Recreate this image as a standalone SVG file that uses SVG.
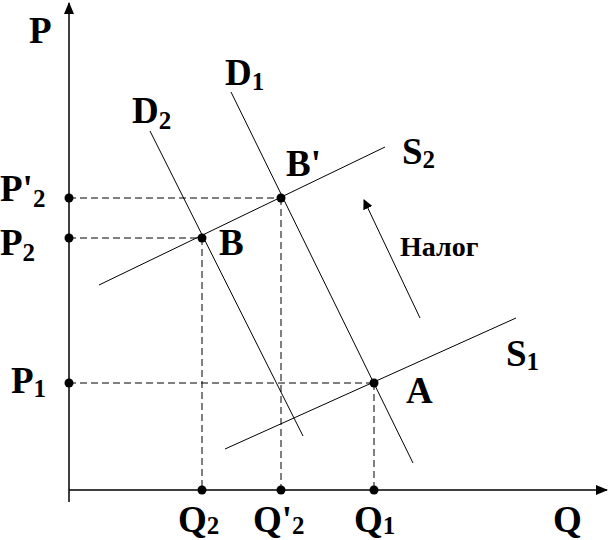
<svg xmlns="http://www.w3.org/2000/svg" width="609" height="540" viewBox="0 0 609 540">
<style>
.t{font-family:"Liberation Serif","Times New Roman",serif;font-weight:bold;fill:#000}
.m{font-size:37px}
.s{font-size:25px}
.n{font-size:28px}
.ln{stroke:#000;stroke-width:1;fill:none}
.ax{stroke:#000;stroke-width:1.5;fill:none}
.ds{stroke:#000;stroke-width:1;stroke-dasharray:7,4;fill:none}
.dot{fill:#000}
</style>
<defs>
<marker id="ah" markerWidth="10" markerHeight="10" refX="9" refY="5" orient="auto" markerUnits="userSpaceOnUse">
<path d="M0,0 L10,5 L0,10 z" fill="#000"/>
</marker>
<marker id="ah2" markerWidth="12" markerHeight="12" refX="11" refY="6" orient="auto" markerUnits="userSpaceOnUse">
<path d="M0,1 L12,6 L0,11 z" fill="#000"/>
</marker>
</defs>
<rect width="609" height="540" fill="#fff"/>
<g id="axes">
<line class="ax" x1="69" y1="502" x2="69" y2="3" marker-end="url(#ah2)"/>
<line class="ax" x1="69" y1="490" x2="607" y2="490" marker-end="url(#ah2)"/>
<text class="t m" x="29" y="43">P</text>
<text class="t m" x="553" y="532">Q</text>
</g>
<g id="connectors">
<line class="ds" x1="69" y1="198" x2="281" y2="198"/>
<line class="ds" x1="69" y1="238" x2="202" y2="238"/>
<line class="ds" x1="69" y1="383" x2="374" y2="383"/>
<line class="ds" x1="202" y1="238" x2="202" y2="490"/>
<line class="ds" x1="281" y1="198" x2="281" y2="490"/>
<line class="ds" x1="374" y1="383" x2="374" y2="490"/>
<line class="ln" x1="420" y1="318" x2="364" y2="200" marker-end="url(#ah)"/>
</g>
<g id="S1">
<line class="ln" x1="225" y1="449" x2="516" y2="318"/>
<text class="t" x="506" y="366"><tspan class="m">S</tspan><tspan class="s" dy="4">1</tspan></text>
</g>
<g id="S2">
<line class="ln" x1="99" y1="285" x2="385" y2="147"/>
<text class="t" x="402" y="164"><tspan class="m">S</tspan><tspan class="s" dy="4">2</tspan></text>
</g>
<g id="D1">
<line class="ln" x1="231" y1="92" x2="413" y2="463"/>
<text class="t" x="225" y="85"><tspan class="m">D</tspan><tspan class="s" dy="5">1</tspan></text>
</g>
<g id="D2">
<line class="ln" x1="150" y1="131" x2="303" y2="436"/>
<text class="t" x="132" y="123"><tspan class="m">D</tspan><tspan class="s" dy="6">2</tspan></text>
</g>
<g id="A">
<circle class="dot" cx="374" cy="383" r="4.5"/>
<text class="t m" x="406" y="403">A</text>
</g>
<g id="B">
<circle class="dot" cx="202" cy="238" r="4.5"/>
<text class="t m" x="219" y="255">B</text>
</g>
<g id="Bp">
<circle class="dot" cx="281" cy="198" r="4.5"/>
<text class="t m" x="286" y="176">B'</text>
</g>
<g id="P1">
<circle class="dot" cx="69" cy="383" r="4.5"/>
<text class="t" x="11" y="393"><tspan class="m">P</tspan><tspan class="s" dy="4">1</tspan></text>
</g>
<g id="P2">
<circle class="dot" cx="69" cy="238" r="4.5"/>
<text class="t" x="0" y="255"><tspan class="m">P</tspan><tspan class="s" dy="6">2</tspan></text>
</g>
<g id="Pp2">
<circle class="dot" cx="69" cy="198" r="4.5"/>
<text class="t" x="0" y="201"><tspan class="m">P'</tspan><tspan class="s" dy="6">2</tspan></text>
</g>
<g id="Q2">
<circle class="dot" cx="202" cy="490" r="4.5"/>
<text class="t" x="178" y="532"><tspan class="m">Q</tspan><tspan class="s" dy="2">2</tspan></text>
</g>
<g id="Qp2">
<circle class="dot" cx="281" cy="490" r="4.5"/>
<text class="t" x="253" y="532"><tspan class="m">Q'</tspan><tspan class="s" dy="2">2</tspan></text>
</g>
<g id="Q1">
<circle class="dot" cx="374" cy="490" r="4.5"/>
<text class="t" x="354" y="532"><tspan class="m">Q</tspan><tspan class="s" dy="2">1</tspan></text>
</g>
<g id="tax">
<text class="t n" x="400" y="256">Налог</text>
</g>
</svg>
